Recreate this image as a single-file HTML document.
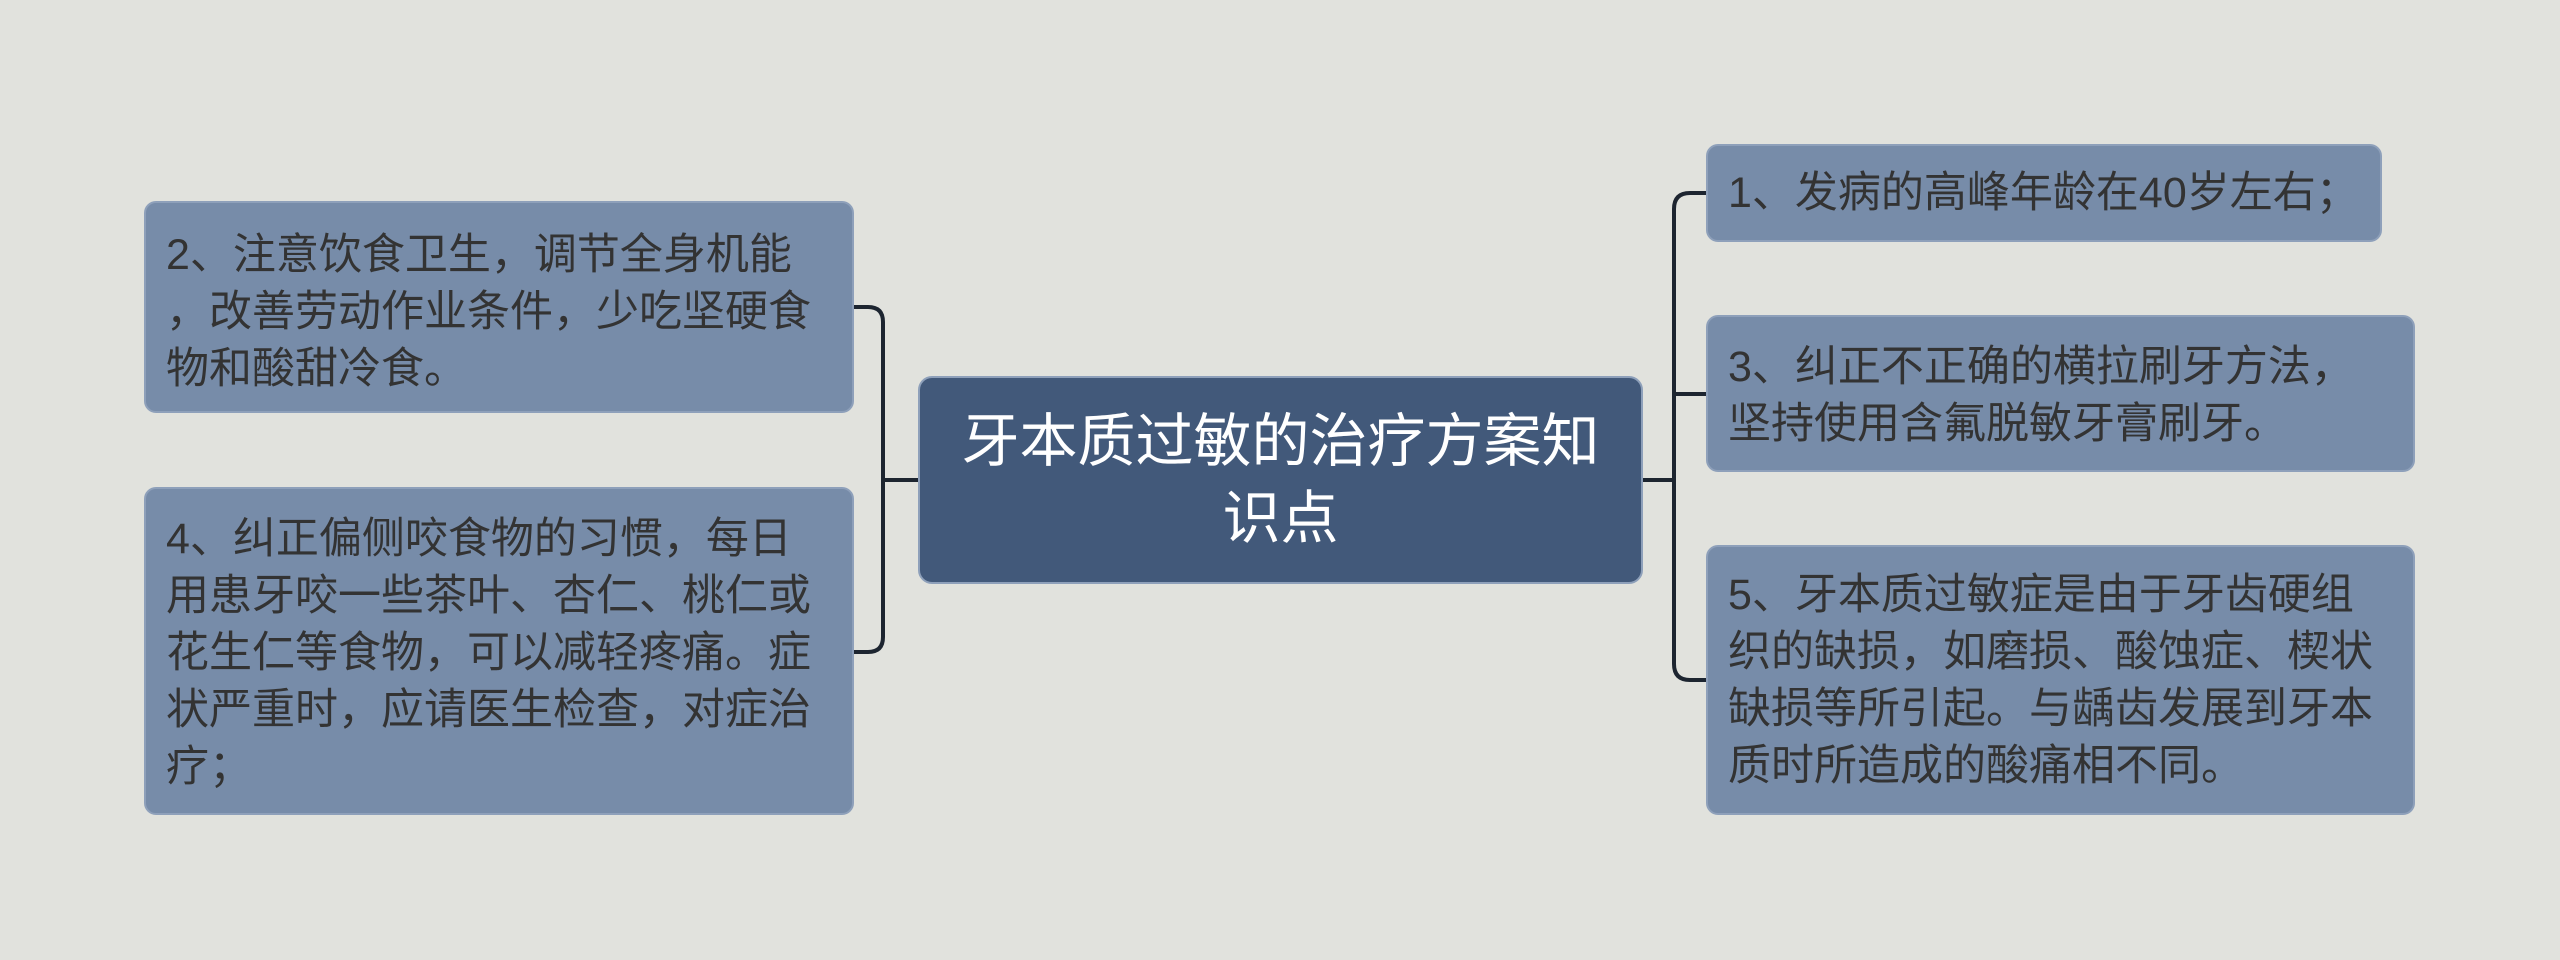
<!DOCTYPE html>
<html><head><meta charset="utf-8"><style>
html,body{margin:0;padding:0}
body{width:2560px;height:960px;background:#e1e2dd;position:relative;overflow:hidden;font-family:"Liberation Sans","Noto Sans CJK SC",sans-serif}
.n{position:absolute;background:#778ca9;border-radius:12px;color:#333;font-size:43px;line-height:57px;box-sizing:border-box;padding:22px 20px;white-space:nowrap;border:2px solid #8ea0ba}
.c{position:absolute;left:918px;top:376px;width:725px;height:208px;background:#42597a;border-radius:14px;color:#fff;font-size:58px;line-height:77px;text-align:center;display:flex;align-items:center;justify-content:center;border:2px solid #8ea0ba;box-sizing:border-box}
svg{position:absolute;left:0;top:0}
</style></head><body>
<svg width="2560" height="960"><g fill="none" stroke="#1d2530" stroke-width="4">
<path d="M918 480 H883"/>
<path d="M854 307 H868 Q883 307 883 322 V637 Q883 652 868 652 H854"/>
<path d="M1643 480 H1672"/>
<path d="M1706 193 H1690 Q1674 193 1674 209 V664 Q1674 680 1690 680 H1706"/>
<path d="M1674 394 Q1674 394 1690 394 H1706"/>
</g></svg>
<div class="c"><div>牙本质过敏的治疗方案知<br>识点</div></div>
<div class="n" style="left:144px;top:201px;width:710px;height:212px;padding-top:24px">2、注意饮食卫生，调节全身机能<br>，改善劳动作业条件，少吃坚硬食<br>物和酸甜冷食。</div>
<div class="n" style="left:144px;top:487px;width:710px;height:328px;padding-top:22px">4、纠正偏侧咬食物的习惯，每日<br>用患牙咬一些茶叶、杏仁、桃仁或<br>花生仁等食物，可以减轻疼痛。症<br>状严重时，应请医生检查，对症治<br>疗；</div>
<div class="n" style="left:1706px;top:144px;width:676px;height:98px;padding-top:19px">1、发病的高峰年龄在40岁左右；</div>
<div class="n" style="left:1706px;top:315px;width:709px;height:157px;padding-top:22px">3、纠正不正确的横拉刷牙方法，<br>坚持使用含氟脱敏牙膏刷牙。</div>
<div class="n" style="left:1706px;top:545px;width:709px;height:270px;padding-top:20px">5、牙本质过敏症是由于牙齿硬组<br>织的缺损，如磨损、酸蚀症、楔状<br>缺损等所引起。与龋齿发展到牙本<br>质时所造成的酸痛相不同。</div>
</body></html>
